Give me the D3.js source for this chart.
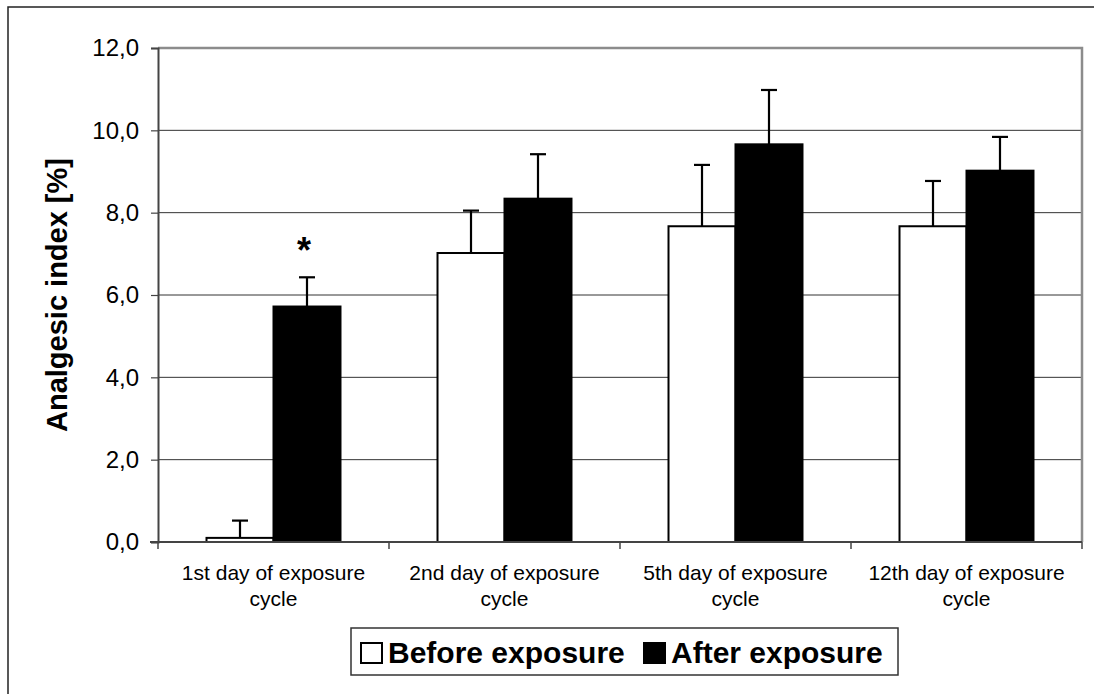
<!DOCTYPE html>
<html>
<head>
<meta charset="utf-8">
<script src="https://cdn.jsdelivr.net/npm/d3@7"></script>
<style>
  html, body { margin: 0; padding: 0; background: #fff; }
  svg { display: block; font-family: "Liberation Sans", Arial, sans-serif; }
</style>
</head>
<body>
<svg id="chart" width="1094" height="694"></svg>
<script>
const categories = [
  ["1st day of exposure", "cycle"],
  ["2nd day of exposure", "cycle"],
  ["5th day of exposure", "cycle"],
  ["12th day of exposure", "cycle"]
];
const seriesNames = ["Before exposure", "After exposure"];
const beforeValues = [0.1, 7.02, 7.67, 7.67];
const afterValues = [5.72, 8.34, 9.66, 9.02];
const beforeErrors = [0.42, 1.03, 1.49, 1.10];
const afterErrors = [0.71, 1.08, 1.32, 0.82];
const yTicks = [0, 2, 4, 6, 8, 10, 12];
const significance = ["*", "", "", ""];

const svg = d3.select("#chart");
const W = 1094, H = 694;
const plot = { left: 158, right: 1082, top: 48, bottom: 542 };

// outer chart border
svg.append("rect").attr("x", 8).attr("y", 7).attr("width", W).attr("height", H)
  .attr("fill", "#fff").attr("stroke", "#222").attr("stroke-width", 1.5);

const catKeys = categories.map((c, i) => i);
const x = d3.scaleBand().domain(catKeys).range([plot.left, plot.right]).paddingInner(0).paddingOuter(0);
const y = d3.scaleLinear().domain([0, 12]).range([plot.bottom, plot.top]);
const barW = x.bandwidth() * 0.29;
const xs = d3.scaleBand().domain([0, 1]).range([-barW, barW]);

// gridlines
svg.append("g").selectAll("line").data(yTicks.filter(t => t > 0 && t < 12)).join("line")
  .attr("x1", plot.left).attr("x2", plot.right)
  .attr("y1", d => y(d)).attr("y2", d => y(d))
  .attr("stroke", "#333").attr("stroke-width", 1);

// plot area top/right border (grey)
svg.append("path")
  .attr("d", `M${plot.left},${y(12)}H${plot.right}V${plot.bottom}`)
  .attr("fill", "none").attr("stroke", "#8c8c8c").attr("stroke-width", 2.5);

// y axis
const yAxis = d3.axisLeft(y).tickValues(yTicks).tickSize(7).tickPadding(12)
  .tickFormat(d => d3.format(".1f")(d).replace(".", ","));
const gy = svg.append("g").attr("transform", `translate(${plot.left},0)`).call(yAxis);
gy.select(".domain").attr("stroke", "#444").attr("stroke-width", 2);
gy.selectAll(".tick line").attr("stroke", "#444").attr("stroke-width", 1.2);
gy.selectAll(".tick text").attr("font-size", 24).attr("fill", "#000")
  .attr("font-family", "Liberation Sans, Arial, sans-serif");

// bars
const seriesData = [beforeValues, afterValues];
const seriesErr = [beforeErrors, afterErrors];
const fills = ["#fff", "#000"];
const bars = [];
seriesData.forEach((vals, s) => {
  vals.forEach((v, i) => bars.push({ s, i, v, e: seriesErr[s][i] }));
});
const cx = d => x(d.i) + x.bandwidth() / 2 + xs(d.s) + xs.bandwidth() / 2;

svg.append("g").selectAll("rect").data(bars).join("rect")
  .attr("x", d => x(d.i) + x.bandwidth() / 2 + xs(d.s))
  .attr("width", xs.bandwidth())
  .attr("y", d => y(d.v))
  .attr("height", d => y(0) - y(d.v))
  .attr("fill", d => fills[d.s])
  .attr("stroke", "#000").attr("stroke-width", 2);

// error bars (upward)
const eg = svg.append("g").attr("stroke", "#000").attr("stroke-width", 2.2);
eg.selectAll("line.v").data(bars).join("line").attr("class", "v")
  .attr("x1", cx).attr("x2", cx)
  .attr("y1", d => y(d.v)).attr("y2", d => y(d.v + d.e));
eg.selectAll("line.c").data(bars).join("line").attr("class", "c")
  .attr("x1", d => cx(d) - 8).attr("x2", d => cx(d) + 8)
  .attr("y1", d => y(d.v + d.e)).attr("y2", d => y(d.v + d.e));

// significance markers
svg.append("g").selectAll("text").data(bars.filter(d => d.s === 1 && significance[d.i])).join("text")
  .attr("x", d => cx(d) - 3)
  .attr("y", d => y(d.v + d.e) - 14)
  .attr("text-anchor", "middle")
  .attr("font-size", 36).attr("font-weight", "bold")
  .text(d => significance[d.i]);

// x axis
svg.append("line").attr("x1", plot.left - 8).attr("x2", plot.right)
  .attr("y1", plot.bottom).attr("y2", plot.bottom)
  .attr("stroke", "#444").attr("stroke-width", 2);
const bounds = catKeys.map(i => x(i)).concat([plot.right]);
svg.append("g").selectAll("line").data(bounds).join("line")
  .attr("x1", d => d).attr("x2", d => d)
  .attr("y1", plot.bottom).attr("y2", plot.bottom + 7)
  .attr("stroke", "#444").attr("stroke-width", 1.5);

// category labels
const cl = svg.append("g").selectAll("text").data(categories).join("text")
  .attr("text-anchor", "middle").attr("font-size", 21).attr("fill", "#000");
cl.each(function (lines, i) {
  const t = d3.select(this);
  lines.forEach((ln, k) => {
    t.append("tspan").attr("x", x(i) + x.bandwidth() / 2).attr("y", 580 + k * 26).text(ln);
  });
});

// y-axis title
svg.append("text")
  .attr("transform", `translate(67,${(plot.top + plot.bottom) / 2}) rotate(-90)`)
  .attr("text-anchor", "middle").attr("font-size", 29).attr("font-weight", "bold")
  .text("Analgesic index [%]");

// legend
const lg = svg.append("g");
lg.append("rect").attr("x", 351).attr("y", 628).attr("width", 547).attr("height", 47)
  .attr("fill", "#fff").attr("stroke", "#333").attr("stroke-width", 1.5);
const legendItems = [
  { name: seriesNames[0], fill: "#fff", sx: 361, tx: 388 },
  { name: seriesNames[1], fill: "#000", sx: 644, tx: 671 }
];
legendItems.forEach(it => {
  lg.append("rect").attr("x", it.sx).attr("y", 643).attr("width", 21).attr("height", 20)
    .attr("fill", it.fill).attr("stroke", "#000").attr("stroke-width", 2);
  lg.append("text").attr("x", it.tx).attr("y", 663)
    .attr("font-size", 30).attr("font-weight", "bold").text(it.name);
});
</script>
</body>
</html>
